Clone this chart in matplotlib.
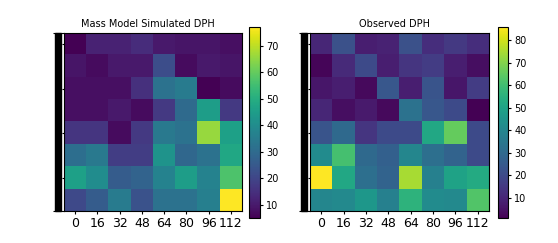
import numpy as np
import matplotlib
matplotlib.use("Agg")
from matplotlib import pyplot as plt
from matplotlib.patches import Rectangle

# x tick labels (pixel offsets)
x_labels = [0, 16, 32, 48, 64, 80, 96, 112]

# mass model simulated DPH, rows top to bottom
simulated = [
    [5, 12, 12, 14, 10, 9, 9, 8],
    [9, 7, 10, 10, 22, 7, 10, 9],
    [8, 8, 8, 15, 32, 35, 5, 7],
    [8, 8, 10, 7, 17, 30, 45, 17],
    [16, 16, 7, 17, 34, 32, 66, 46],
    [31, 34, 18, 18, 42, 29, 32, 48],
    [46, 40, 26, 28, 37, 45, 37, 57],
    [21, 26, 35, 23, 32, 32, 36, 77],
]

# observed DPH, rows top to bottom
observed = [
    [10, 22, 8, 9, 22, 12, 15, 12],
    [2, 11, 20, 8, 14, 16, 8, 4],
    [6, 8, 3, 24, 8, 23, 6, 16],
    [10, 4, 7, 3, 33, 24, 20, 1],
    [23, 30, 14, 20, 20, 52, 66, 20],
    [42, 61, 30, 27, 40, 32, 28, 20],
    [86, 52, 32, 28, 75, 38, 50, 53],
    [40, 41, 46, 38, 56, 42, 41, 63],
]

titles = ["Mass Model Simulated DPH", "Observed DPH"]

W, H = 558, 243
fig = plt.figure(figsize=(W / 100, H / 100), dpi=100)


def px(x0, y0, w, h):
    # pixel box (top-left origin) -> figure fraction
    return [x0 / W, (H - y0 - h) / H, w / W, h / H]


layout = [
    (px(64, 33, 178, 178), px(249, 27, 11, 191)),
    (px(310, 33, 179, 178), px(498, 27, 10, 191)),
]

for data, title, (ax_box, cb_box) in zip([simulated, observed], titles, layout):
    ax = fig.add_axes(ax_box)
    cax = fig.add_axes(cb_box)
    im = ax.imshow(np.array(data), cmap="viridis", aspect="auto")
    ax.set_title(title, fontsize=7, pad=4, x=0.47)

    ax.set_xticks(range(len(x_labels)))
    ax.set_xticklabels(x_labels, fontsize=9)
    ax.tick_params(axis="x", length=2.5, width=0.8, pad=2)

    ax.set_yticks([-0.5, 7.5])
    ax.set_yticklabels([])
    ax.set_yticks([0, 2, 4, 6], minor=True)
    ax.tick_params(axis="y", which="major", length=8, width=0.8)
    ax.tick_params(axis="y", which="minor", length=1.8, width=0.8)

    # the solid black strip left of the image
    ax.add_patch(Rectangle((-0.052, 0), 0.037, 1, transform=ax.transAxes,
                           color="black", clip_on=False))

    cb = fig.colorbar(im, cax=cax)
    cb.ax.tick_params(labelsize=7, length=2.5, width=0.8, pad=2)
    cb.outline.set_linewidth(0.8)

fig.savefig("out.png", dpi=100)
